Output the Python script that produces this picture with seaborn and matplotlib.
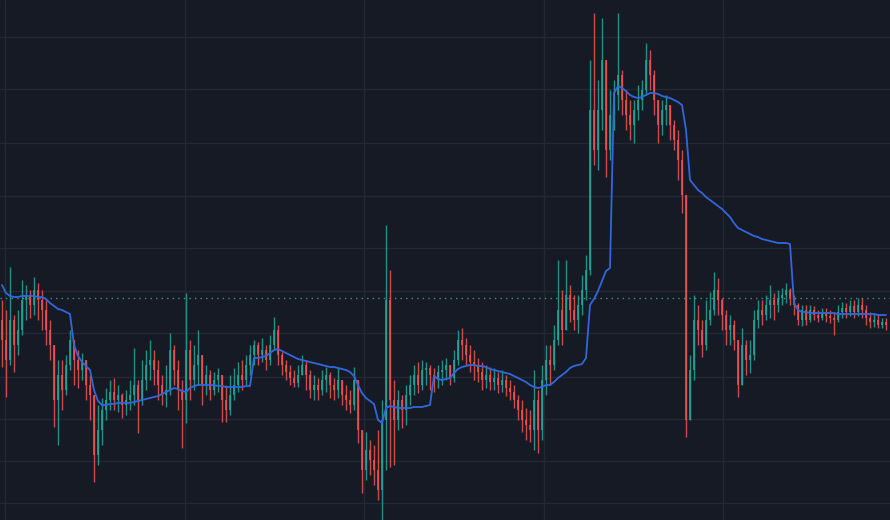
import matplotlib
matplotlib.use("Agg")
import matplotlib.pyplot as plt
import numpy as np
import pandas as pd
import seaborn as sns

# candle closes (open = previous close)
first_open = 200
closes = [
    180, 160, 200, 175, 190, 220, 225, 215, 230, 220,
    210, 190, 175, 120, 145, 130, 155, 180, 160, 150,
    160, 135, 125, 65, 90, 110, 120, 128, 120, 125,
    115, 120, 125, 135, 120, 140, 155, 160, 150, 135,
    125, 130, 170, 150, 130, 120, 170, 140, 155, 165,
    135, 145, 130, 140, 145, 120, 110, 125, 135, 145,
    140, 155, 165, 175, 165, 170, 160, 175, 190, 165,
    155, 148, 142, 137, 145, 155, 145, 130, 135, 130,
    140, 145, 135, 130, 140, 125, 120, 115, 140, 90,
    50, 70, 60, 50, 30, 100, 220, 120, 100, 120,
    110, 125, 135, 145, 135, 150, 152, 145, 140, 148,
    150, 155, 142, 160, 180, 175, 165, 158, 155, 148,
    140, 145, 138, 142, 135, 140, 132, 128, 120, 110,
    100, 95, 90, 120, 90, 140, 160, 155, 180, 210,
    190, 225, 210, 200, 215, 230, 250, 410, 370, 410,
    460, 370, 405, 425, 445, 420, 405, 395, 410, 420,
    430, 460, 445, 420, 395, 410, 415, 395, 380, 360,
    325, 100, 150, 200, 190, 175, 200, 210, 230, 220,
    205, 190, 195, 180, 135, 175, 160, 165, 200, 210,
    205, 215, 220, 215, 222, 225, 230, 222, 215, 200,
    210, 200, 210, 205, 202, 207, 204, 202, 200, 208,
    212, 208, 214, 208, 215, 210, 202, 198, 200, 195,
    198, 195,
]
highs = [
    220, 210, 253, 205, 210, 240, 235, 230, 243, 237,
    230, 220, 200, 175, 160, 160, 165, 190, 175, 170,
    167, 155, 145, 125, 115, 122, 132, 140, 142, 135,
    127, 130, 140, 172, 140, 160, 170, 180, 170, 160,
    145, 155, 187, 175, 160, 140, 227, 180, 175, 190,
    160, 155, 150, 148, 152, 145, 135, 145, 152, 158,
    160, 165, 175, 180, 178, 182, 175, 185, 203, 195,
    168, 160, 155, 150, 155, 165, 160, 150, 145, 142,
    150, 153, 148, 142, 152, 140, 135, 130, 153, 140,
    90, 88, 80, 75, 90, 120, 295, 250, 140, 130,
    125, 135, 145, 155, 158, 160, 158, 155, 152, 155,
    160, 162, 155, 170, 190, 192, 182, 175, 170, 162,
    158, 155, 153, 152, 148, 150, 145, 140, 135, 125,
    120, 112, 110, 150, 130, 155, 175, 175, 195, 260,
    230, 260, 235, 225, 225, 245, 265, 460, 507, 440,
    502, 460, 430, 440, 507, 450, 430, 420, 420, 435,
    440, 477, 470, 450, 415, 420, 425, 415, 400, 390,
    370, 325, 165, 225, 215, 200, 220, 228, 248, 242,
    222, 210, 205, 200, 180, 192, 180, 180, 210, 220,
    220, 225, 235, 227, 230, 232, 237, 232, 225, 217,
    215, 215, 215, 214, 210, 212, 212, 210, 208, 215,
    218, 217, 220, 220, 222, 222, 215, 208, 206, 205,
    202, 202,
]
lows = [
    153, 123, 155, 148, 165, 185, 200, 202, 205, 200,
    190, 175, 160, 93, 75, 110, 125, 150, 135, 132,
    140, 120, 100, 38, 55, 75, 100, 110, 110, 108,
    102, 105, 110, 115, 87, 115, 130, 140, 135, 120,
    115, 113, 125, 135, 110, 72, 97, 120, 130, 135,
    115, 125, 120, 125, 128, 98, 98, 105, 120, 128,
    130, 135, 145, 155, 155, 158, 150, 155, 170, 155,
    145, 140, 135, 133, 133, 145, 130, 122, 120, 120,
    125, 128, 122, 120, 122, 115, 110, 107, 110, 77,
    27, 40, 45, 35, 20, -5, 50, 53, 55, 90,
    92, 95, 115, 125, 127, 130, 135, 130, 128, 132,
    135, 140, 135, 138, 155, 160, 155, 148, 140, 138,
    130, 132, 130, 130, 127, 128, 124, 120, 112, 100,
    88, 80, 78, 70, 67, 80, 125, 135, 150, 175,
    175, 200, 198, 190, 187, 205, 220, 245, 355, 350,
    390, 343, 360, 390, 410, 405, 390, 380, 377, 400,
    410, 425, 430, 405, 377, 385, 395, 380, 370, 340,
    307, 83, 100, 140, 175, 163, 170, 195, 205, 205,
    190, 175, 175, 170, 123, 135, 145, 147, 160, 192,
    195, 200, 202, 200, 208, 215, 217, 215, 205, 195,
    194, 195, 198, 200, 198, 200, 198, 197, 185, 198,
    202, 202, 204, 202, 204, 202, 195, 192, 193, 192,
    192, 190,
]
# blue average line, one value per candle
avg_line = [
    235, 227, 224, 223, 223, 224, 224, 224, 224, 223,
    223, 221, 217, 214, 211, 210, 208, 206, 175, 164,
    158, 154, 150, 130, 119, 115, 115, 116, 116, 117,
    117, 117, 117, 118, 119, 120, 121, 122, 123, 124,
    126, 128, 130, 132, 131, 129, 128, 132, 134, 135,
    135, 135, 135, 135, 134, 134, 133, 133, 133, 133,
    133, 134, 134, 162, 162, 163, 164, 167, 170, 171,
    169, 167, 165, 163, 161, 160, 159, 158, 157, 156,
    155, 154, 153, 153, 152, 151, 150, 148, 144, 135,
    127, 122, 119, 116, 100, 97, 112, 114, 113, 112,
    112, 112, 112, 113, 113, 113, 114, 115, 144, 141,
    140, 141, 142, 147, 151, 153, 154, 155, 155, 154,
    154, 153, 151, 150, 149, 148, 147, 146, 144, 142,
    140, 138, 135, 133, 132, 133, 135, 135, 138, 142,
    145, 148, 152, 154, 155, 156, 162, 215, 221, 229,
    239, 249, 252, 427, 434, 432, 429, 425, 423, 422,
    423, 425, 427, 427, 426, 424, 423, 422, 420, 418,
    415, 390, 340, 335, 330, 327, 323, 320, 317, 314,
    311, 307, 303, 297, 292, 290, 288, 286, 284, 283,
    281, 280, 279, 278, 277, 277, 277, 276, 217, 210,
    208, 208, 207, 207, 207, 207, 207, 207, 207, 206,
    206, 206, 206, 206, 206, 206, 206, 206, 206, 205,
    205, 205,
]
last_price = 222
price_grid = [17, 59, 101, 143, 187, 229, 272, 324, 377, 431, 483]

BG = "#161a25"
GRID = "#242834"
UP = "#26a69a"
DOWN = "#ef5350"

n = len(closes)
df = pd.DataFrame({"idx": np.arange(n), "close": closes, "high": highs,
                   "low": lows, "avg": avg_line})
df["open"] = [first_open] + closes[:-1]
df["high"] = np.maximum(df["high"], df[["open", "close"]].max(axis=1))
df["low"] = np.minimum(df["low"], df[["open", "close"]].min(axis=1))
df["up"] = df["close"] >= df["open"]

sns.set_theme(style="dark", rc={"axes.facecolor": BG, "figure.facecolor": BG})

fig = plt.figure(figsize=(8.9, 5.2), dpi=100)
ax = fig.add_axes([0, 0, 1, 1])
ax.set_facecolor(BG)

ax.set_yticks(price_grid)
ax.set_xticks(np.arange(0.75, n, 44.875))
ax.grid(True, color=GRID, lw=1)
ax.tick_params(length=0, labelleft=False, labelbottom=False)
for s in ax.spines.values():
    s.set_visible(False)

cols = np.where(df["up"], UP, DOWN)
ax.vlines(df["idx"], df["low"], df["high"], colors=cols, lw=1, alpha=0.85, zorder=2)
body_lo = df[["open", "close"]].min(axis=1)
body_h = (df["close"] - df["open"]).abs().clip(lower=0.8)
ax.bar(df["idx"], body_h, bottom=body_lo, width=0.5, color=cols, alpha=0.8,
       linewidth=0, zorder=3)

ax.axhline(last_price, color="#3f8f8a", lw=1, ls=(0, (1, 3)), zorder=1)

sns.lineplot(data=df, x="idx", y="avg", ax=ax, color="#3366dd", lw=1.3, zorder=4)
ax.set_xlabel("")
ax.set_ylabel("")

ax.set_xlim(-0.5, n)
ax.set_ylim(0, 520)

fig.savefig("out.png", dpi=100, facecolor=BG)
